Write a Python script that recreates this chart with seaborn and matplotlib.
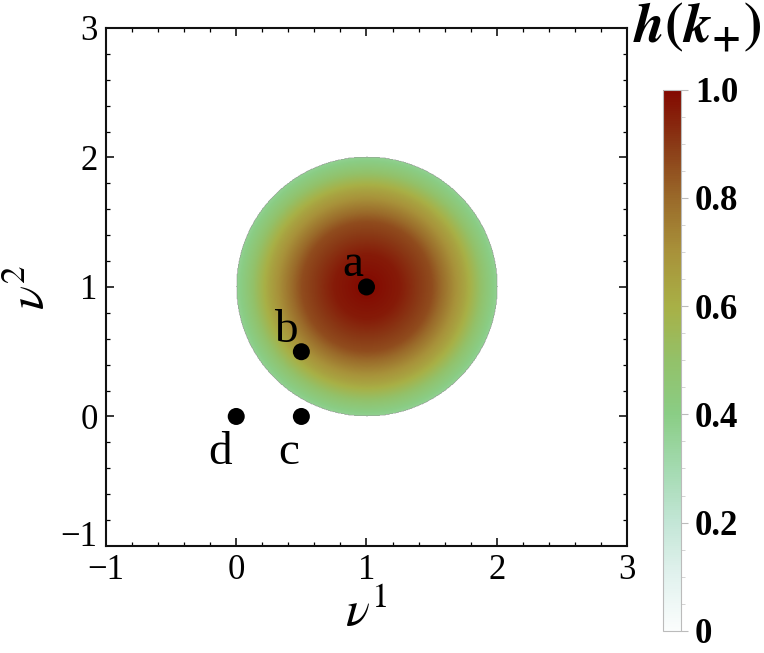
import numpy as np
import matplotlib
matplotlib.use("Agg")
import matplotlib.pyplot as plt
import seaborn as sns
from matplotlib.colors import LinearSegmentedColormap
from matplotlib.ticker import MultipleLocator, FixedLocator, FixedFormatter

# radial profile of h (distance from centre -> value)
r_knots = [0.0, 0.25, 0.5, 0.75, 0.9, 1.0]
h_knots = [1.0, 0.96, 0.86, 0.64, 0.47, 0.37]
center = (1.0, 1.0)
radius = 1.0

# marked points
pt_x = [1.0, 0.5, 0.5, 0.0]
pt_y = [1.0, 0.5, 0.0, 0.0]
pt_names = ["a", "b", "c", "d"]

cbar_ticks = [0, 0.2, 0.4, 0.6, 0.8, 1.0]
cbar_labels = ["0", "0.2", "0.4", "0.6", "0.8", "1.0"]
axis_ticks = [-1, 0, 1, 2, 3]

sns.set_style("ticks")
plt.rcParams["font.family"] = ["Liberation Serif", "DejaVu Serif"]
plt.rcParams["mathtext.fontset"] = "stix"
plt.rcParams["text.color"] = "black"
plt.rcParams["axes.labelcolor"] = "black"
plt.rcParams["xtick.color"] = "black"
plt.rcParams["ytick.color"] = "black"

# colour ramp sampled from the colour bar
ramp = [(0.0, "#fbfdfd"), (0.1, "#e2f2ee"), (0.2, "#c3e6d6"), (0.3, "#a3dab0"),
        (0.4, "#8acd85"), (0.5, "#93c169"), (0.6, "#a8b046"), (0.7, "#a8923a"),
        (0.8, "#9a6a2a"), (0.9, "#8a3a16"), (1.0, "#830800")]
cmap = LinearSegmentedColormap.from_list("hmap", ramp)

fig = plt.figure(figsize=(7.64, 6.53), dpi=100)
ax = fig.add_axes([0.1387, 0.1639, 0.682, 0.7933])
cax = fig.add_axes([0.868, 0.034, 0.0236, 0.8285])

gx = np.linspace(-1, 3, 801)
gy = np.linspace(-1, 3, 801)
X, Y = np.meshgrid(gx, gy)
R = np.hypot(X - center[0], Y - center[1])
H = np.interp(R, r_knots, h_knots)
H = np.where(R <= radius, H, np.nan)

im = ax.imshow(H, extent=(-1, 3, -1, 3), origin="lower", cmap=cmap,
               vmin=0, vmax=1, interpolation="bilinear", aspect="auto")

sns.scatterplot(x=pt_x, y=pt_y, color="black", s=150, edgecolor="none",
                ax=ax, legend=False, zorder=5)

label_offsets = {"a": (-10, 8), "b": (-11, 7), "c": (-9, -34), "d": (-11.5, -34)}
for name, px, py in zip(pt_names, pt_x, pt_y):
    ax.annotate(name, (px, py), xytext=label_offsets[name], textcoords="offset points",
                ha="center", va="baseline", fontsize=34, color="black", zorder=6)

ax.set_xlim(-1, 3)
ax.set_ylim(-1, 3)
ax.xaxis.set_major_locator(FixedLocator(axis_ticks))
ax.yaxis.set_major_locator(FixedLocator(axis_ticks))
ax.xaxis.set_minor_locator(MultipleLocator(0.2))
ax.yaxis.set_minor_locator(MultipleLocator(0.2))
ax.tick_params(which="both", direction="in", top=True, right=True, color="black")
ax.tick_params(which="major", length=6, width=1.1, labelsize=25, pad=6, labelcolor="black")
ax.tick_params(which="minor", length=3, width=0.9)
for sp in ax.spines.values():
    sp.set_linewidth(1.5)
    sp.set_color("#111111")
ax.set_xlabel(r"$\nu^{1}$", fontsize=36, labelpad=2, color="black")
ax.set_ylabel(r"$\nu^{2}$", fontsize=36, labelpad=4, color="black")

# lift the lowest y label a little, as in the reference
fig.canvas.draw()
ax.get_yticklabels()[0].set_va("baseline")

cb = fig.colorbar(im, cax=cax)
cb.outline.set_edgecolor("#bbbbbb")
cb.outline.set_linewidth(0.8)
cb.ax.yaxis.set_major_locator(FixedLocator(cbar_ticks))
cb.ax.yaxis.set_major_formatter(FixedFormatter(cbar_labels))
cb.ax.yaxis.set_minor_locator(MultipleLocator(0.05))
cb.ax.tick_params(which="major", length=5, width=0.8, color="#bbbbbb", labelsize=25,
                  pad=5, labelcolor="black")
cb.ax.tick_params(which="minor", length=3, width=0.6, color="#cccccc")
for t in cb.ax.get_yticklabels():
    t.set_fontweight("bold")
fig.text(0.913, 0.935, r"$\mathbfit{h}\mathbf{(}\mathbfit{k}_{\mathbf{+}}\mathbf{)}$",
         fontsize=40, ha="center", va="baseline", color="black")

fig.savefig("out.png", dpi=100)
